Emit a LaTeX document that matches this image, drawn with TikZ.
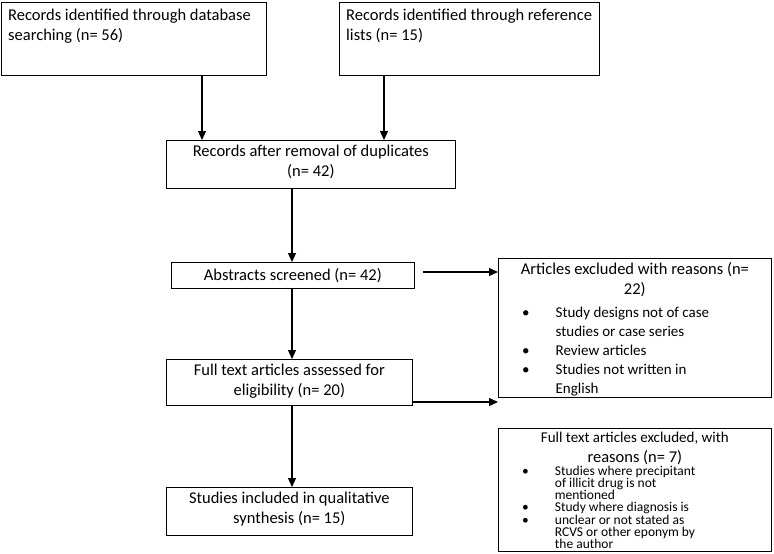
\documentclass[tikz,border=0pt]{standalone}
\usepackage{fontspec}
\setmainfont{Carlito}
\usetikzlibrary{arrows.meta}
\newcommand{\bitem}[1]{\textbullet & #1\\}
\begin{document}
\begin{tikzpicture}[x=1pt,y=-1pt,font=\fontsize{16.5}{20}\selectfont,
  box/.style={draw,line width=0.7pt,anchor=north west,inner sep=0pt,align=center},
  txt/.style={inner sep=0pt,align=center},
  flow/.style={-{Triangle[length=9pt,width=8pt]},line width=1.3pt}]
\useasboundingbox (0,0) rectangle (774,554);

\node (db) at (1,2)[box,minimum width=265,minimum height=73] {};
\node[txt,anchor=north west,align=left] at (8,9) {Records identified through database\\searching (n= 56)};
\node (ref) at (339,2)[box,minimum width=260,minimum height=73] {};
\node[txt,anchor=north west,align=left] at (346,9) {Records identified through reference\\lists (n= 15)};
\node (dup) at (166,140)[box,minimum width=289,minimum height=48] {};
\node[txt,anchor=north] at ([yshift=-5]dup.north) {Records after removal of duplicates\\(n= 42)};
\node (abs) at (171,262)[box,minimum width=243,minimum height=26] {Abstracts screened (n= 42)};
\node (exa) at (498,258)[box,minimum width=273,minimum height=139] {};
\node[txt,anchor=north] at ([yshift=-4]exa.north) {Articles excluded with reasons (n=\\22)};
\node[txt,anchor=north west,align=left] at (522,304) {\fontsize{15}{19}\selectfont\begin{tabular}{@{}c@{\hspace{26pt}}p{200pt}@{}}
\bitem{Study designs not of case\newline studies or case series}
\bitem{Review articles}
\bitem{Studies not written in\newline English}
\end{tabular}};
\node (full) at (166,359)[box,minimum width=246,minimum height=46] {};
\node[txt,anchor=north] at ([yshift=-5]full.north) {Full text articles assessed for\\eligibility (n= 20)};
\node (exf) at (498,428)[box,minimum width=273,minimum height=123] {};
\node[txt,anchor=north] at ([yshift=-4]exf.north) {\fontsize{15}{17}\selectfont Full text articles excluded, with\\reasons (n= 7)};
\node[txt,anchor=north west,align=left] at (522,466) {\fontsize{13.5}{11.8}\selectfont\renewcommand{\arraystretch}{0.95}\begin{tabular}{@{}c@{\hspace{26pt}}p{200pt}@{}}
\bitem{Studies where precipitant\newline of illicit drug is not\newline mentioned}
\bitem{Study where diagnosis is}
\bitem{unclear or not stated as\newline RCVS or other eponym by\newline the author}
\end{tabular}};
\node (inc) at (166,487)[box,minimum width=246,minimum height=48] {};
\node[txt,anchor=north] at ([yshift=-5]inc.north) {Studies included in qualitative\\synthesis (n= 15)};

\draw[flow] (db.south -| 202,0) -- (dup.north -| 202,0);
\draw[flow] (ref.south -| 384,0) -- (dup.north -| 384,0);
\draw[flow] (dup.south -| 292,0) -- (abs.north -| 292,0);
\draw[flow] (423,272) -- (exa.west |- 0,272);
\draw[flow] (abs.south -| 292,0) -- (full.north -| 292,0);
\draw[flow] (full.east |- 0,402) -- (exf.west |- 0,402);
\draw[flow] (full.south -| 292,0) -- (inc.north -| 292,0);
\end{tikzpicture}
\end{document}
